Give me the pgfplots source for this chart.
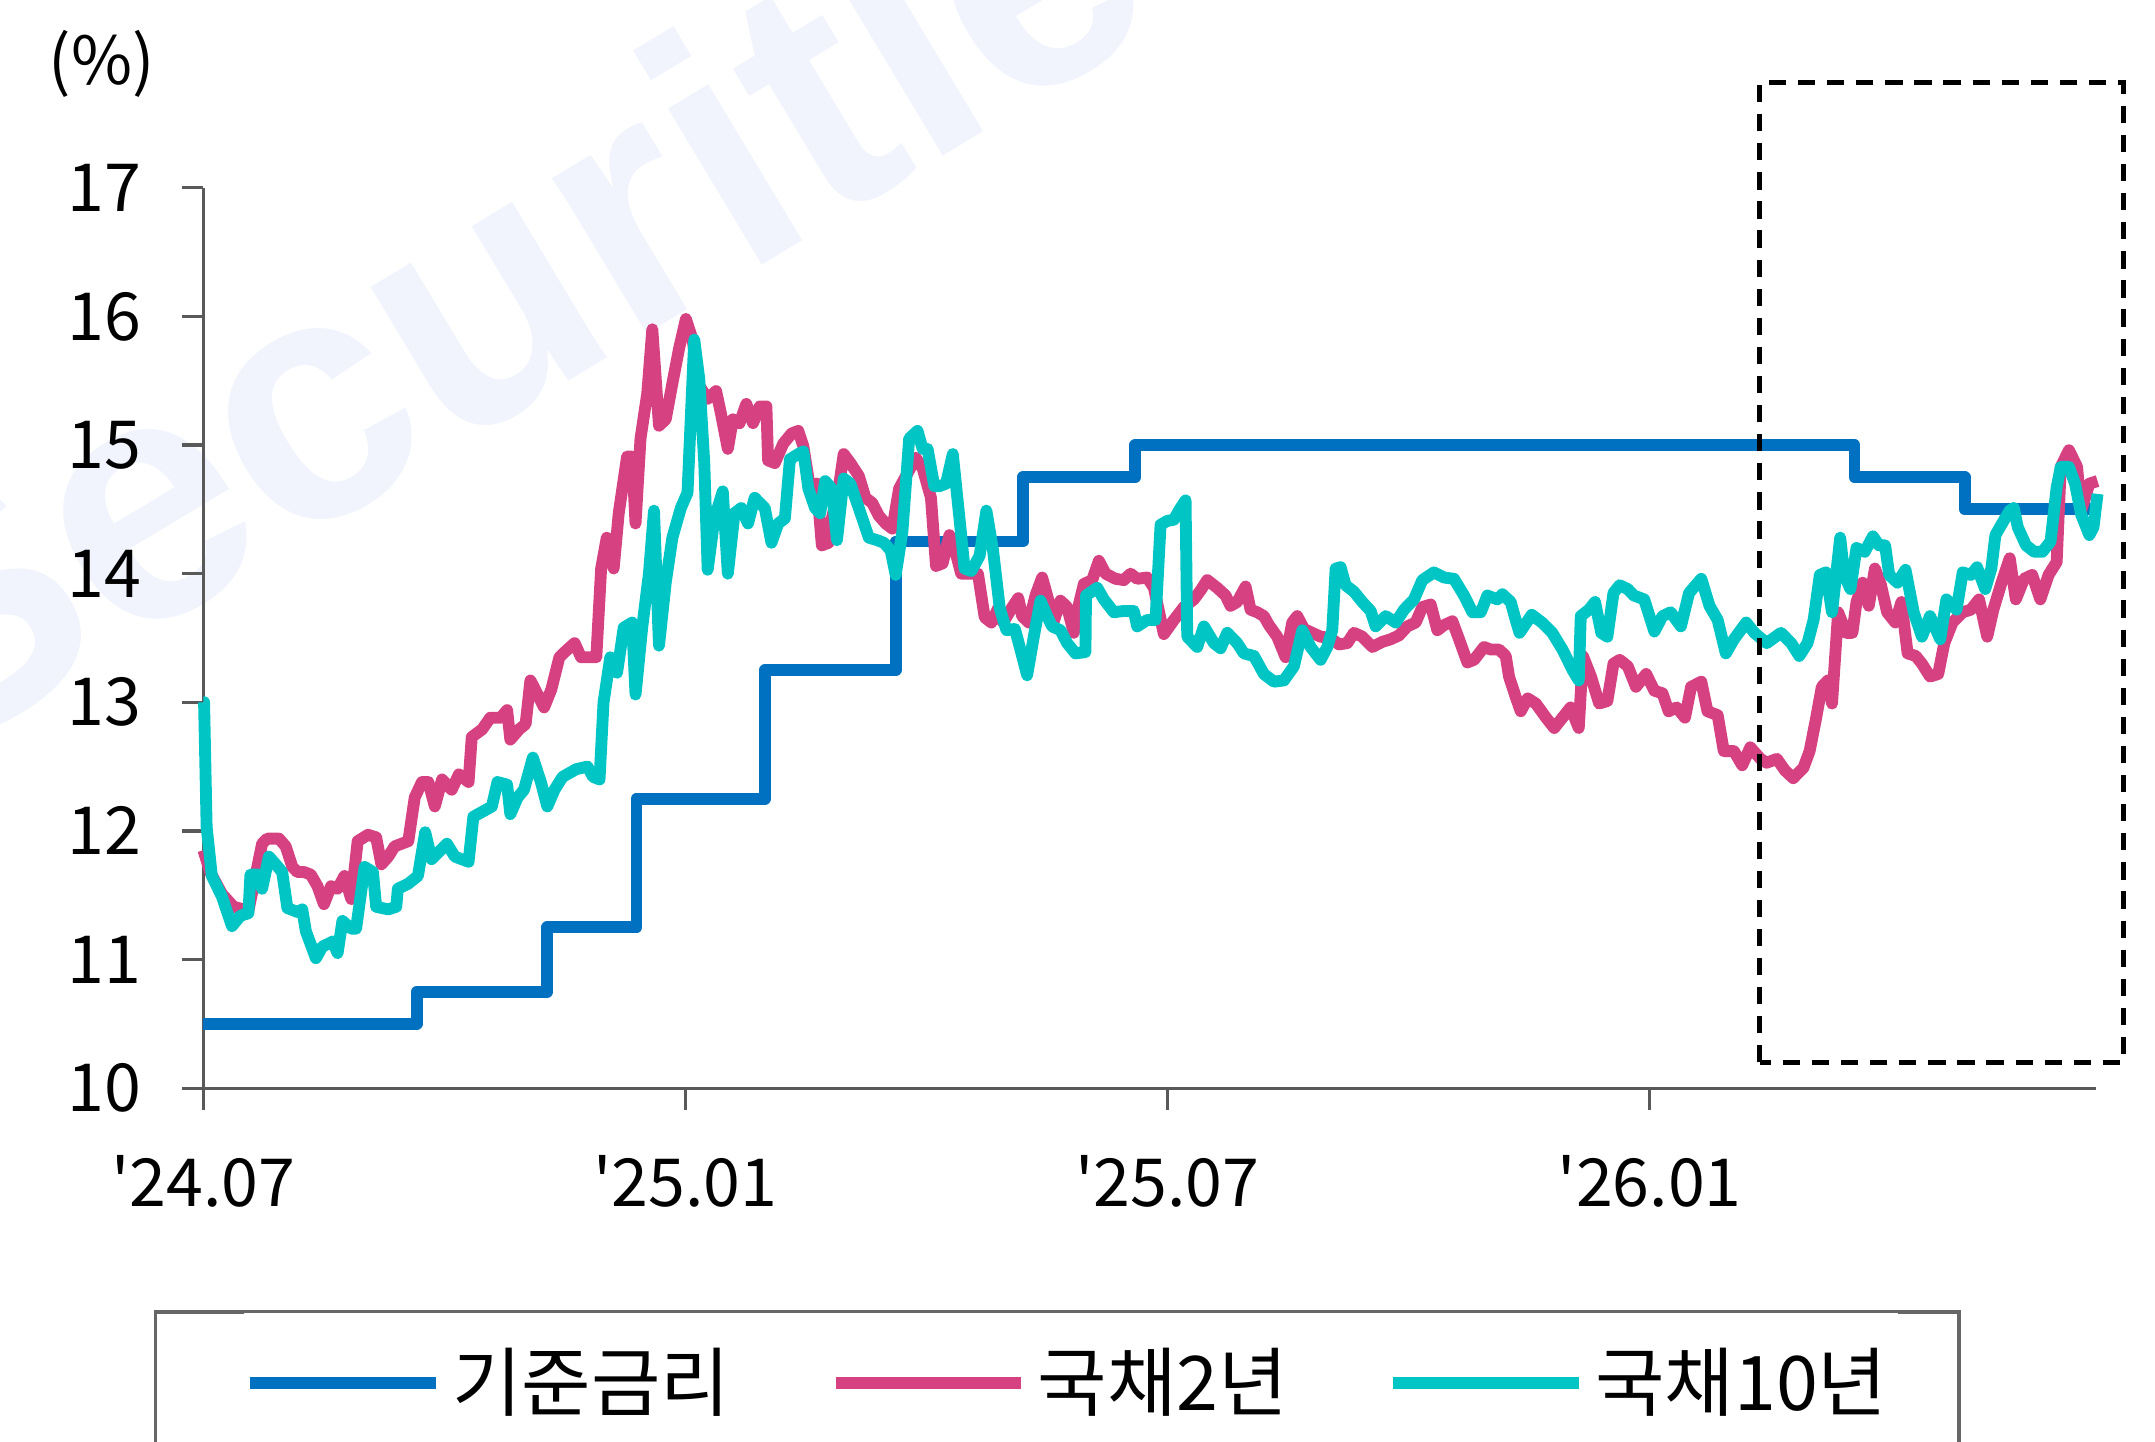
\documentclass[border=0pt]{standalone}
\usepackage{fontspec}
\setmainfont{Noto Sans CJK KR}
\newfontfamily\wmfont{Liberation Sans}
\usepackage{pgfplots}
\pgfplotsset{compat=1.18}
\definecolor{base}{HTML}{0070C0}
\definecolor{ktb2}{HTML}{D64182}
\definecolor{ktb10}{HTML}{00C5C5}
\definecolor{wm}{HTML}{F1F4FD}

\begin{document}
\begin{tikzpicture}
\begin{axis}[
  set layers,
  scale only axis,
  width=351.3pt, height=167.1pt,
  xmin=0, xmax=23.56, ymin=10, ymax=17,
  clip=false,
  axis lines*=left,
  axis line style={black!65, line width=0.6pt},
  tick align=outside,
  major tick length=4pt,
  tick style={black!65, line width=0.6pt},
  xtick={0,6,12,18},
  xticklabels={\textquotesingle24.07,\textquotesingle25.01,\textquotesingle25.07,\textquotesingle26.01},
  ytick={10,11,...,17},
  tick label style={font=\fontsize{12.3}{14}\selectfont, text=black},
  xticklabel style={yshift=-5pt},
  yticklabel style={xshift=-4pt},
  /pgf/number format/assume math mode=true,
  legend columns=3,
  legend style={at={(0.0211,-0.2489)}, anchor=north west,
    draw=none, inner xsep=0pt, inner ysep=4.4pt,
    font=\fontsize{14}{16}\selectfont,
    /tikz/every even column/.append style={column sep=16.5pt}},
  legend image code/.code={\draw[#1] (0pt,0pt) -- (34.4pt,0pt);},
  every axis plot/.append style={line width=2.2pt, line join=round},
]
\begin{pgfonlayer}{axis background}
\node[rotate=31, text=wm, font=\wmfont\bfseries\fontsize{64}{64}\selectfont] at (axis cs:4.48,16.59) {Securities};
\end{pgfonlayer}

\addplot[base, const plot] coordinates {
  (0,10.5) (2.654,10.75) (4.28,11.25) (5.39,12.25) (6.987,13.25) (8.616,14.25)
  (10.2,14.75) (11.6,15) (20.55,14.75) (21.92,14.5) (23.56,14.5)};
\addlegendentry{기준금리}

\addplot[ktb2] table {
x y
0 11.85
0.084 11.68
0.23 11.51
0.376 11.41
0.56 11.38
0.73 11.9
0.794 11.94
0.94 11.94
1.024 11.88
1.107 11.72
1.17 11.68
1.254 11.68
1.337 11.66
1.42 11.57
1.5 11.43
1.588 11.57
1.67 11.55
1.755 11.65
1.84 11.47
1.92 11.92
2.048 11.97
2.15 11.95
2.215 11.74
2.3 11.8
2.38 11.88
2.55 11.92
2.63 12.26
2.72 12.38
2.8 12.38
2.88 12.19
2.97 12.4
3.09 12.32
3.18 12.44
3.3 12.38
3.34 12.73
3.47 12.79
3.57 12.88
3.7 12.88
3.78 12.94
3.82 12.71
3.93 12.79
4.01 12.83
4.07 13.17
4.16 13.06
4.24 12.96
4.33 13.1
4.43 13.35
4.53 13.41
4.62 13.46
4.7 13.35
4.78 13.35
4.89 13.35
4.95 14.04
5.02 14.28
5.106 14.04
5.169 14.47
5.273 14.91
5.336 14.91
5.378 14.39
5.44 15.05
5.524 15.4
5.587 15.9
5.67 15.15
5.754 15.2
5.837 15.48
5.92 15.75
6.005 15.98
6.088 15.82
6.172 15.46
6.276 15.36
6.381 15.42
6.443 15.24
6.527 14.97
6.59 15.2
6.673 15.17
6.757 15.32
6.84 15.17
6.924 15.3
7.007 15.3
7.028 14.88
7.112 14.86
7.216 15.01
7.321 15.09
7.404 15.11
7.467 14.99
7.551 14.66
7.634 14.7
7.697 14.22
7.781 14.24
7.822 14.43
7.906 14.66
7.969 14.93
8.052 14.86
8.157 14.76
8.24 14.59
8.324 14.55
8.407 14.45
8.491 14.39
8.575 14.35
8.658 14.66
8.867 14.9
8.951 14.82
9.055 14.59
9.118 14.06
9.2 14.08
9.285 14.3
9.348 14.2
9.431 14.0
9.536 14.0
9.64 14.0
9.724 13.66
9.807 13.62
9.891 13.73
9.954 13.62
10.058 13.73
10.142 13.81
10.19 13.67
10.273 13.62
10.356 13.83
10.439 13.97
10.501 13.83
10.584 13.63
10.667 13.79
10.75 13.74
10.833 13.54
10.896 13.76
10.958 13.92
11.062 13.95
11.145 14.1
11.228 14.0
11.352 13.96
11.456 13.95
11.539 14.0
11.622 13.96
11.746 13.97
11.83 13.89
11.954 13.53
12.079 13.64
12.203 13.74
12.328 13.8
12.411 13.87
12.494 13.95
12.618 13.89
12.722 13.83
12.784 13.75
12.867 13.78
12.971 13.9
13.033 13.72
13.116 13.7
13.199 13.67
13.262 13.6
13.365 13.51
13.469 13.35
13.552 13.62
13.614 13.67
13.698 13.57
13.801 13.54
13.905 13.51
14.03 13.5
14.133 13.45
14.237 13.46
14.32 13.54
14.424 13.51
14.549 13.43
14.673 13.47
14.777 13.49
14.881 13.52
14.984 13.59
15.088 13.62
15.171 13.74
15.275 13.76
15.358 13.56
15.441 13.6
15.545 13.63
15.628 13.49
15.732 13.31
15.815 13.33
15.939 13.43
16.022 13.41
16.126 13.41
16.209 13.36
16.25 13.2
16.334 13.04
16.396 12.93
16.482 13.03
16.584 12.99
16.711 12.88
16.813 12.8
16.915 12.88
17.016 12.96
17.118 12.8
17.169 13.36
17.27 13.2
17.372 12.99
17.474 13.01
17.55 13.3
17.627 13.33
17.728 13.28
17.83 13.12
17.957 13.22
18.059 13.09
18.16 13.07
18.237 12.93
18.338 12.96
18.44 12.88
18.516 13.12
18.643 13.16
18.72 12.93
18.847 12.9
18.923 12.62
19.05 12.62
19.152 12.51
19.253 12.65
19.38 12.56
19.457 12.53
19.584 12.56
19.685 12.47
19.787 12.41
19.914 12.49
19.991 12.62
20.067 12.86
20.143 13.12
20.219 13.17
20.27 12.99
20.346 13.7
20.448 13.54
20.524 13.54
20.575 13.78
20.651 13.93
20.728 13.75
20.804 14.04
20.88 13.91
20.956 13.7
21.058 13.62
21.134 13.78
21.211 13.38
21.312 13.36
21.389 13.3
21.49 13.2
21.592 13.22
21.668 13.46
21.77 13.62
21.897 13.7
21.999 13.72
22.1 13.8
22.202 13.51
22.278 13.72
22.38 13.93
22.482 14.12
22.558 13.8
22.66 13.96
22.761 13.99
22.863 13.8
22.965 13.99
23.066 14.09
23.117 14.83
23.219 14.96
23.32 14.83
23.371 14.49
23.473 14.7
23.575 14.72
};
\addlegendentry{국채2년}

\addplot[ktb10] table {
x y
0 13.0
0.008 13.0
0.04 12.03
0.105 11.65
0.23 11.49
0.355 11.26
0.46 11.34
0.56 11.36
0.585 11.66
0.69 11.66
0.73 11.55
0.815 11.8
0.9 11.74
0.98 11.68
1.045 11.4
1.17 11.37
1.23 11.39
1.275 11.22
1.4 11.01
1.48 11.1
1.61 11.14
1.67 11.05
1.73 11.3
1.84 11.24
1.9 11.24
2.006 11.72
2.11 11.68
2.15 11.41
2.3 11.39
2.4 11.41
2.42 11.55
2.55 11.59
2.67 11.65
2.76 11.99
2.84 11.78
3.03 11.9
3.13 11.8
3.3 11.76
3.36 12.11
3.59 12.19
3.66 12.38
3.78 12.36
3.82 12.13
3.91 12.26
3.99 12.32
4.1 12.57
4.2 12.38
4.28 12.19
4.37 12.32
4.47 12.42
4.64 12.48
4.78 12.5
4.85 12.42
4.93 12.4
4.98 13.0
5.064 13.35
5.148 13.23
5.231 13.58
5.336 13.62
5.378 13.06
5.461 13.58
5.545 14.0
5.608 14.49
5.67 13.44
5.754 13.93
5.837 14.28
5.942 14.51
6.025 14.63
6.109 15.82
6.172 15.51
6.234 14.86
6.276 14.03
6.36 14.43
6.464 14.64
6.527 14.0
6.61 14.47
6.694 14.51
6.778 14.39
6.861 14.59
6.987 14.51
7.07 14.24
7.154 14.39
7.237 14.43
7.3 14.89
7.404 14.93
7.467 14.95
7.53 14.66
7.613 14.51
7.676 14.47
7.739 14.72
7.822 14.66
7.885 14.26
7.969 14.74
8.052 14.7
8.157 14.51
8.282 14.28
8.387 14.26
8.47 14.24
8.554 14.18
8.616 13.99
8.7 14.33
8.784 15.05
8.888 15.11
8.951 14.97
9.013 14.97
9.097 14.68
9.16 14.68
9.243 14.7
9.327 14.93
9.41 14.43
9.473 14.04
9.557 14.02
9.661 14.14
9.745 14.49
9.828 14.18
9.912 13.73
9.995 13.56
10.1 13.57
10.19 13.36
10.252 13.21
10.335 13.51
10.418 13.79
10.501 13.67
10.563 13.59
10.667 13.56
10.75 13.46
10.854 13.38
10.978 13.39
10.985 13.83
11.124 13.89
11.207 13.8
11.331 13.7
11.456 13.71
11.58 13.71
11.622 13.59
11.746 13.64
11.85 13.64
11.913 14.38
11.996 14.41
12.079 14.42
12.141 14.49
12.224 14.57
12.245 13.51
12.369 13.43
12.452 13.59
12.577 13.46
12.66 13.42
12.743 13.54
12.867 13.46
12.95 13.38
13.075 13.36
13.199 13.22
13.324 13.16
13.448 13.17
13.573 13.28
13.677 13.56
13.78 13.43
13.905 13.33
13.988 13.43
14.05 13.56
14.092 14.04
14.154 14.05
14.216 13.91
14.32 13.86
14.424 13.78
14.528 13.71
14.59 13.59
14.715 13.67
14.839 13.62
14.943 13.72
15.067 13.8
15.171 13.95
15.316 14.01
15.441 13.97
15.565 13.96
15.69 13.83
15.794 13.7
15.898 13.7
15.981 13.83
16.105 13.8
16.167 13.84
16.271 13.78
16.333 13.64
16.381 13.54
16.533 13.68
16.66 13.62
16.788 13.54
16.915 13.41
17.042 13.25
17.118 13.17
17.143 13.67
17.245 13.72
17.321 13.78
17.398 13.54
17.474 13.51
17.55 13.85
17.627 13.91
17.728 13.88
17.804 13.83
17.932 13.8
18.059 13.55
18.16 13.67
18.262 13.7
18.389 13.59
18.491 13.85
18.643 13.96
18.745 13.75
18.847 13.64
18.948 13.38
19.05 13.49
19.202 13.62
19.304 13.54
19.457 13.46
19.635 13.54
19.762 13.46
19.863 13.36
19.965 13.46
20.041 13.64
20.118 13.99
20.194 14.01
20.27 13.7
20.372 14.28
20.423 13.99
20.499 13.88
20.575 14.2
20.677 14.17
20.779 14.29
20.855 14.22
20.931 14.22
20.982 13.99
21.084 13.93
21.185 14.03
21.287 13.7
21.389 13.51
21.49 13.67
21.617 13.49
21.694 13.8
21.82 13.72
21.897 14.01
21.999 13.99
22.075 14.05
22.177 13.88
22.253 14.04
22.304 14.3
22.405 14.41
22.482 14.49
22.532 14.51
22.583 14.36
22.685 14.22
22.787 14.17
22.888 14.17
22.99 14.25
23.066 14.67
23.117 14.83
23.219 14.83
23.295 14.7
23.371 14.46
23.473 14.3
23.524 14.36
23.575 14.62
};
\addlegendentry{국채10년}

\draw[black, line width=0.9pt, dash pattern=on 3.2pt off 2.2pt] (axis cs:19.37,10.2) rectangle (axis cs:23.9,17.82);
\draw[black!60, line width=0.6pt] (axis cs:-0.599,8.259) rectangle (axis cs:21.85,7.137);
\node[font=\fontsize{12.3}{14}\selectfont] at (axis cs:-1.266,17.96) {(\%)};
\coordinate (bbll) at (axis cs:-2.532,7.254);
\coordinate (bbur) at (axis cs:24.29,18.46);
\end{axis}
\pgfresetboundingbox
\useasboundingbox (bbll) rectangle (bbur);
\end{tikzpicture}
\end{document}
